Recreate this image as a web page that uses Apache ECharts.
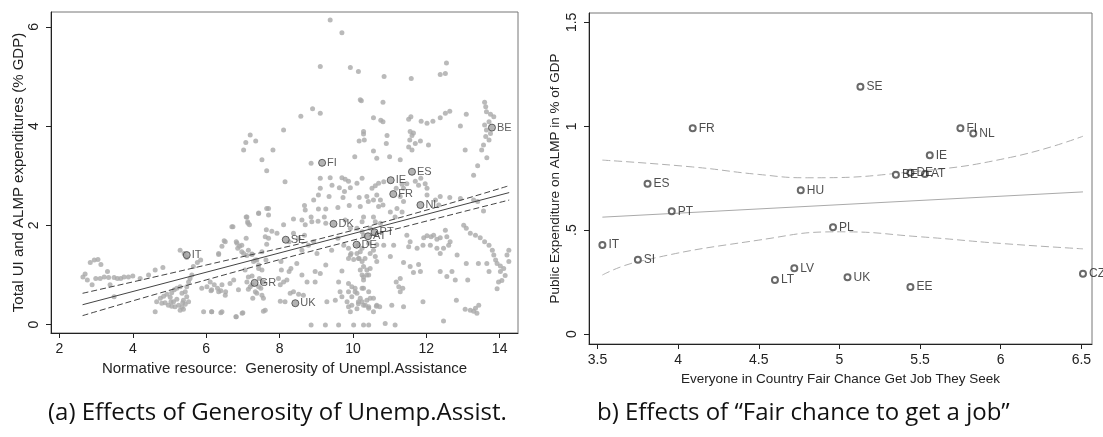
<!DOCTYPE html>
<html><head><meta charset="utf-8">
<script src="https://cdn.jsdelivr.net/npm/echarts@6/dist/echarts.min.js"></script>
<style>html,body{margin:0;padding:0;background:#fff}#c{width:1103px;height:437px}</style>
</head><body><div id="c"></div>
<script>
// ---------- Panel (a) data ----------
var cloudPoints = [
[2.64,0.96],[2.70,1.02],[2.76,0.90],[2.84,1.25],[2.95,1.30],[3.05,1.31],[3.13,1.21],[2.89,0.80],[2.99,0.93],[3.11,0.93],[3.22,0.96],[3.31,1.07],[3.34,0.95],[3.38,0.80],[3.49,0.95],[3.58,0.93],[3.67,0.93],[3.76,0.96],[3.88,0.96],[4.00,0.98],[3.49,0.56],[4.20,0.93],[4.43,1.00],[4.61,1.10],[4.82,1.15],
[5.29,1.50],[5.40,1.43],[5.47,1.35],[5.61,1.00],[5.65,1.17],[5.76,1.25],[5.85,1.30],[4.61,0.26],[4.65,0.46],[4.75,0.53],[4.84,0.57],[4.93,0.61],[5.02,0.55],[5.06,0.64],[5.13,0.70],[5.20,0.73],[5.29,0.76],[5.34,0.63],[5.38,0.49],[5.43,0.41],[5.34,0.35],[5.25,0.39],[5.15,0.36],[5.06,0.37],[4.97,0.39],[4.88,0.44],[5.29,0.29],[5.38,0.31],[5.47,0.76],[5.52,0.86],[5.56,0.93],[5.47,0.56],[5.11,0.46],[5.20,0.51],[5.43,0.66],[5.52,0.46],[5.36,0.44],[5.04,0.46],[4.79,0.43],
[5.88,0.73],[6.02,0.76],[6.13,0.68],[6.22,0.80],[6.31,0.73],[6.40,0.68],[6.53,0.66],[5.93,0.26],[6.15,0.26],[6.40,0.24],[6.82,0.16],[6.98,0.23],[6.65,0.83],[6.75,0.90],[6.34,1.43],[6.43,1.58],[6.49,1.69],[6.73,1.97],[6.82,1.67],[6.91,1.58],[6.97,1.47],[7.09,2.17],[7.13,2.07],[7.18,2.01],[7.09,1.74],[7.15,1.50],[7.25,1.42],[7.34,1.30],[7.43,1.20],[7.52,1.10],[7.45,0.93],[7.56,0.86],[7.49,0.73],[7.38,0.63],[7.27,0.53],[7.56,0.53],[7.61,0.29],[7.64,1.91],[7.70,1.74],[7.65,1.62],[7.43,2.25],[7.70,2.34],[7.15,0.71],[7.25,0.80],[7.15,0.96],[7.06,1.10],
[9.38,6.14],[9.70,5.88],[9.11,5.20],[9.93,5.18],[10.15,5.10],[10.23,4.51],[8.58,4.20],[8.90,4.35],[9.11,4.26],[8.11,3.92],[7.20,3.82],[7.08,3.67],[7.35,3.70],[7.02,3.52],[7.82,3.52],[7.52,3.32],[7.65,3.10],[8.86,3.25],[10.29,3.84],[10.17,3.70],[10.05,3.38],[8.15,2.88],[9.11,2.95],[9.38,2.96],[9.70,2.96],[9.79,2.93],[9.88,2.89],[9.11,2.75],[9.06,2.61],[9.43,2.81],[9.63,2.76],[9.77,2.68],[9.93,2.76],[10.11,2.85],[10.17,2.56],[9.73,2.56],[9.35,2.58],[8.93,2.51],[8.68,2.40],[8.70,2.31],[8.86,2.17],[9.06,2.33],[9.26,2.33],[9.59,2.36],[9.90,2.40],[10.20,2.38],[8.38,2.13],[8.61,2.11],[8.70,2.01],[8.88,2.07],[9.05,2.08],[9.22,2.17],[9.26,2.04],[9.79,2.11],[9.93,1.94],[10.11,1.94],[10.25,2.07],
[7.65,2.34],[7.70,2.21],[7.43,2.24],[7.11,2.17],[7.14,2.04],[6.70,1.97],[7.79,1.88],[7.61,1.77],[8.11,2.01],[7.93,1.84],[8.38,1.84],[8.26,1.67],[8.52,1.74],[8.68,1.80],[8.93,1.67],[8.79,1.60],[8.61,1.50],[9.02,1.43],[9.26,1.20],[9.11,1.03],[9.42,1.50],[9.75,1.60],[9.59,1.74],[9.95,1.43],[9.88,1.33],
[6.52,1.67],[6.34,1.41],[6.84,1.64],[6.86,1.54],[6.97,1.60],[7.02,1.43],[7.11,1.39],[7.25,1.41],[7.29,1.27],[7.38,1.30],[7.52,1.47],[7.63,1.30],[7.43,1.13],[7.25,0.98],[7.11,0.86],[7.20,0.76],[7.34,0.66],[7.43,0.76],[7.52,0.59],[7.56,0.86],[6.88,0.70],[6.43,0.80],[6.34,0.66],[6.15,0.70],[6.11,0.86],[6.52,0.59],[6.15,0.26],[6.43,0.26],[6.81,0.16],[7.00,0.24],[7.56,0.27],
[8.11,0.86],[7.97,0.93],[8.02,0.80],[8.20,0.90],[8.26,1.07],[8.31,1.13],[8.05,1.10],[8.04,1.27],[8.47,1.23],[8.61,1.00],[8.75,0.86],[8.65,0.59],[8.97,0.86],[8.97,1.07],[8.29,0.63],[8.38,0.66],[8.52,0.61],[8.02,0.47],[8.15,0.46],[8.86,-0.01],[9.25,-0.01],[9.61,-0.01],[9.70,0.56],[9.61,0.86],[9.70,1.08],[9.65,0.66],[9.29,0.46],[9.52,0.49],[9.88,0.66],[9.97,0.56],[9.84,0.46],[9.97,0.39],[10.11,0.32],[10.15,0.46],[9.88,0.36],[9.93,0.26],[10.06,0.66],[10.25,0.73],[10.25,1.00],[10.17,1.33],[10.25,1.54],[10.15,1.60],[10.29,1.80],[10.02,-0.01],[10.29,-0.01],
[12.55,5.27],[12.38,5.04],[12.52,5.06],[10.85,5.00],[11.59,4.96],[10.20,4.53],[10.82,4.48],[12.64,4.30],[12.52,4.26],[12.38,4.17],[12.18,4.10],[12.02,4.06],[11.86,4.10],[11.58,4.19],[11.52,4.14],[10.56,4.17],[10.76,4.12],[10.82,4.09],[13.09,4.24],[12.93,4.00],
[13.59,4.48],[13.62,4.39],[13.64,4.29],[13.75,4.24],[13.84,4.19],[13.71,4.09],[13.59,4.02],[13.64,3.92],[13.75,3.85],[13.62,3.79],[13.71,3.72],[13.56,3.62],[13.51,3.52],[13.65,3.36],[13.40,3.20],[13.29,3.01],[13.06,3.52],
[10.29,3.89],[10.31,3.72],[10.56,3.50],[10.93,3.81],[10.91,3.65],[11.00,3.38],[11.29,3.32],[10.65,3.35],[11.56,3.89],[11.61,3.81],[11.55,3.72],[11.52,3.58],[11.61,3.52],[11.70,3.65],[11.84,3.70],[12.06,3.62],[11.65,3.86],
[10.25,2.95],[10.52,2.75],[10.61,2.80],[10.70,2.85],[10.84,2.88],[10.65,2.61],[10.38,2.58],[10.42,2.48],[10.56,2.51],[10.75,2.51],[10.82,2.41],[10.70,2.38],[11.18,2.75],[11.34,2.83],[11.38,2.75],[11.47,2.84],[11.70,2.89],[11.79,2.81],[11.85,2.95],[11.97,2.84],[12.02,2.75],[12.02,2.61],[11.29,2.58],[11.38,2.48],[11.20,2.34],[11.34,2.27],[11.15,2.17],[11.02,2.27],[12.38,2.58],[12.25,2.51],[12.34,2.41],[12.64,2.56],[12.93,2.54],[13.29,2.51],[13.40,2.48],[13.56,2.29],
[10.29,2.17],[10.56,2.17],[10.61,2.07],[10.75,2.04],[10.47,1.94],[10.25,1.87],[10.43,1.64],[10.84,1.60],[11.11,1.60],[11.47,1.80],[11.56,1.67],[11.52,1.57],[11.75,1.54],[11.93,1.75],[12.02,1.79],[12.13,1.77],[12.20,1.80],[12.29,1.72],[12.38,1.75],[12.52,1.90],[12.56,1.77],[12.65,1.67],[12.61,1.60],[12.47,1.54],[12.29,1.54],[12.11,1.60],[11.91,1.60],
[13.02,2.00],[13.09,1.94],[13.20,1.84],[13.34,1.80],[13.47,1.75],[13.59,1.67],[13.71,1.60],[13.80,1.50],[13.84,1.40],[13.89,1.30],[13.93,1.23],[14.02,1.18],[14.11,1.13],[14.02,1.07],[14.15,0.99],[14.06,0.89],[13.97,0.86],[13.93,0.72],[14.25,1.50],[14.20,1.40],[14.25,1.27],[13.65,1.23],[13.71,1.07],[13.42,1.23],
[11.02,1.37],[10.65,1.27],[10.47,1.13],[10.38,1.00],[10.29,0.90],[10.29,0.73],[10.43,0.66],[10.56,0.53],[10.65,0.39],[10.56,0.26],[10.43,0.33],[10.29,0.39],[11.38,1.25],[11.56,1.17],[11.65,1.05],[11.84,1.07],[11.79,1.21],[11.29,0.93],[11.18,0.86],[11.25,0.76],[11.36,0.73],[11.29,0.66],[11.06,0.39],[11.38,0.36],[11.91,0.46],[12.38,1.07],[12.70,1.07],[12.56,0.97],[12.79,0.90],[13.13,0.90],[12.38,1.43],[12.84,1.40],[13.09,1.23],[12.82,0.49],[13.06,0.31],[13.20,0.29],[13.34,0.33],[13.43,0.39],[13.38,0.23],[13.29,0.27],[12.47,0.07],[10.43,-0.01],[10.88,0.02],[11.15,-0.01],[10.20,1.47],[10.33,1.33],
[9.88,0.83],[9.97,0.76],[10.06,0.73],[10.11,0.63],[10.20,0.53],[10.25,0.46],[10.15,0.42],[10.34,0.39],[10.43,0.36],[10.38,0.49],[10.47,0.53],[10.64,0.37],[10.73,0.36],[10.11,1.43],[10.15,1.33],[10.25,1.27],[10.29,1.17],[10.20,1.10],[10.38,1.10],[10.43,1.00],[10.29,0.96],[10.47,1.43],[10.56,1.50],[10.65,1.61],[10.61,1.37],[9.93,1.40],[10.02,1.31],[9.88,1.54]
];
var leftCountries = ["FI","ES","IE","BE","FR","NL","DK","SE","PT","AT","DE","IT","GR","UK"];
var leftX = [9.16,11.61,11.03,13.79,11.10,11.84,9.47,8.17,10.59,10.41,10.10,5.47,7.32,8.43];
var leftY = [3.26,3.08,2.91,3.97,2.63,2.41,2.03,1.71,1.86,1.78,1.61,1.40,0.84,0.43];
var leftFit = [[2.63,0.40],[14.26,2.66]];
var leftCIUpper = [[2.63,0.63],[6,1.20],[10,1.90],[14.26,2.80]];
var leftCILower = [[2.63,0.18],[6,0.90],[10,1.70],[14.26,2.51]];
var leftXTicks = [2,4,6,8,10,12,14];
var leftYTicks = [0,2,4,6];

// ---------- Panel (b) data ----------
var rightCountries = ["SE","FR","FI","NL","IE","BE","DE","AT","ES","HU","PT","PL","IT","SI","LV","LT","UK","EE","CZ"];
var rightX = [5.13,4.09,5.75,5.83,5.56,5.35,5.44,5.53,3.81,4.76,3.96,4.96,3.53,3.75,4.72,4.60,5.05,5.44,6.51];
var rightY = [1.19,0.99,0.99,0.965,0.86,0.766,0.776,0.77,0.723,0.692,0.591,0.514,0.428,0.357,0.316,0.26,0.273,0.226,0.29];
var rightFit = [[3.53,0.5625],[6.51,0.684]];
var rightCIUpper = [[3.53,0.837],[4.09,0.804],[4.5,0.768],[4.8,0.752],[5.44,0.78],[6.06,0.85],[6.51,0.952]];
var rightCILower = [[3.53,0.284],[3.75,0.348],[4.5,0.452],[5.0,0.492],[5.5,0.468],[6.0,0.436],[6.51,0.41]];
var rightXTicks = [3.5,4,4.5,5,5.5,6,6.5];
var rightYTicks = [0,0.5,1,1.5];

var captionA = '(a) Effects of Generosity of Unemp.Assist.';
var captionB = 'b) Effects of \u201cFair chance to get a job\u201d';

function pts(names, xs, ys){ return names.map(function(n,i){ return {name:n, value:[xs[i], ys[i]]}; }); }
var tickFont = {fontFamily:'Liberation Sans, Arial, sans-serif', fontSize:14, color:'#222'};
function axisCommon(ticks, fmt, rot, margin){
  return {
    axisLine:{show:true, onZero:false, lineStyle:{color:'#222', width:1}},
    axisTick:{show:true, inside:false, length:5, customValues:ticks, lineStyle:{color:'#222'}},
    axisLabel:Object.assign({customValues:ticks, formatter:fmt, rotate:rot, margin:margin}, tickFont),
    splitLine:{show:false}
  };
}
var fmtNum = function(v){ return String(v); };
var fmtDot = function(v){ return v===0.5?'.5':String(v); };
var fontMain = 'Liberation Sans, Arial, sans-serif';

var chart = echarts.init(document.getElementById('c'), null, {renderer:'canvas'});
chart.setOption({
  animation:false,
  backgroundColor:'#fff',
  grid:[
    {left:51, top:12, width:467, height:321, show:true, borderColor:'#777', borderWidth:1, backgroundColor:'transparent'},
    {left:589, top:13, width:503, height:331, show:true, borderColor:'#777', borderWidth:1, backgroundColor:'transparent'}
  ],
  xAxis:[
    Object.assign(axisCommon(leftXTicks, fmtNum, 0, 9), {type:'value', gridIndex:0, min:1.77, max:14.5,
      name:'Normative resource:  Generosity of Unempl.Assistance', nameLocation:'middle', nameGap:22,
      nameTextStyle:{fontFamily:fontMain, fontSize:15, color:'#222'}}),
    Object.assign(axisCommon(rightXTicks, fmtNum, 0, 9), {type:'value', gridIndex:1, min:3.447, max:6.566,
      name:'Everyone in Country Fair Chance Get Job They Seek', nameLocation:'middle', nameGap:24,
      nameTextStyle:{fontFamily:fontMain, fontSize:13.5, color:'#222'}})
  ],
  yAxis:[
    Object.assign(axisCommon(leftYTicks, fmtNum, 90, 10), {type:'value', gridIndex:0, min:-0.17, max:6.3,
      name:'Total UI and ALMP expenditures (% GDP)', nameLocation:'middle', nameGap:25, nameRotate:90,
      nameTextStyle:{fontFamily:fontMain, fontSize:15, color:'#222'}}),
    Object.assign(axisCommon(rightYTicks, fmtDot, 90, 10), {type:'value', gridIndex:1, min:-0.048, max:1.545,
      name:'Public Expenditure on ALMP in % of GDP', nameLocation:'middle', nameGap:27, nameRotate:90,
      nameTextStyle:{fontFamily:fontMain, fontSize:13.5, color:'#222'}})
  ],
  series:[
    {type:'scatter', xAxisIndex:0, yAxisIndex:0, data:cloudPoints, symbol:'circle', symbolSize:5,
      itemStyle:{color:'#a9a9a9'}, silent:true, z:2},
    {type:'line', xAxisIndex:0, yAxisIndex:0, data:leftFit, showSymbol:false, lineStyle:{color:'#444', width:1}, z:3},
    {type:'line', xAxisIndex:0, yAxisIndex:0, data:leftCIUpper, smooth:true, showSymbol:false, lineStyle:{color:'#444', width:1, type:[6,3]}, z:3},
    {type:'line', xAxisIndex:0, yAxisIndex:0, data:leftCILower, smooth:true, showSymbol:false, lineStyle:{color:'#444', width:1, type:[6,3]}, z:3},
    {type:'scatter', xAxisIndex:0, yAxisIndex:0, data:pts(leftCountries,leftX,leftY), symbol:'circle', symbolSize:7,
      itemStyle:{color:'#a0a0a0', borderColor:'#444', borderWidth:1}, z:4,
      label:{show:true, position:'right', distance:1, formatter:'{b}', fontFamily:fontMain, fontSize:11, color:'#333'}},
    {type:'line', xAxisIndex:1, yAxisIndex:1, data:rightFit, showSymbol:false, lineStyle:{color:'#aaa', width:1}, z:3},
    {type:'line', xAxisIndex:1, yAxisIndex:1, data:rightCIUpper, smooth:true, showSymbol:false, lineStyle:{color:'#b0b0b0', width:1, type:[8,4]}, z:3},
    {type:'line', xAxisIndex:1, yAxisIndex:1, data:rightCILower, smooth:true, showSymbol:false, lineStyle:{color:'#b0b0b0', width:1, type:[8,4]}, z:3},
    {type:'scatter', xAxisIndex:1, yAxisIndex:1, data:pts(rightCountries,rightX,rightY), symbol:'emptyCircle', symbolSize:6,
      itemStyle:{color:'#444', borderWidth:1}, z:4,
      label:{show:true, position:'right', distance:2, formatter:'{b}', fontFamily:fontMain, fontSize:12, color:'#222'}}
  ],
  graphic:[
    {type:'text', left:48, top:401, style:{text:captionA, font:'24px "Open Sans", sans-serif', fill:'#111'}},
    {type:'text', left:597, top:401, style:{text:captionB, font:'24px "Open Sans", sans-serif', fill:'#111'}}
  ]
});
</script></body></html>
